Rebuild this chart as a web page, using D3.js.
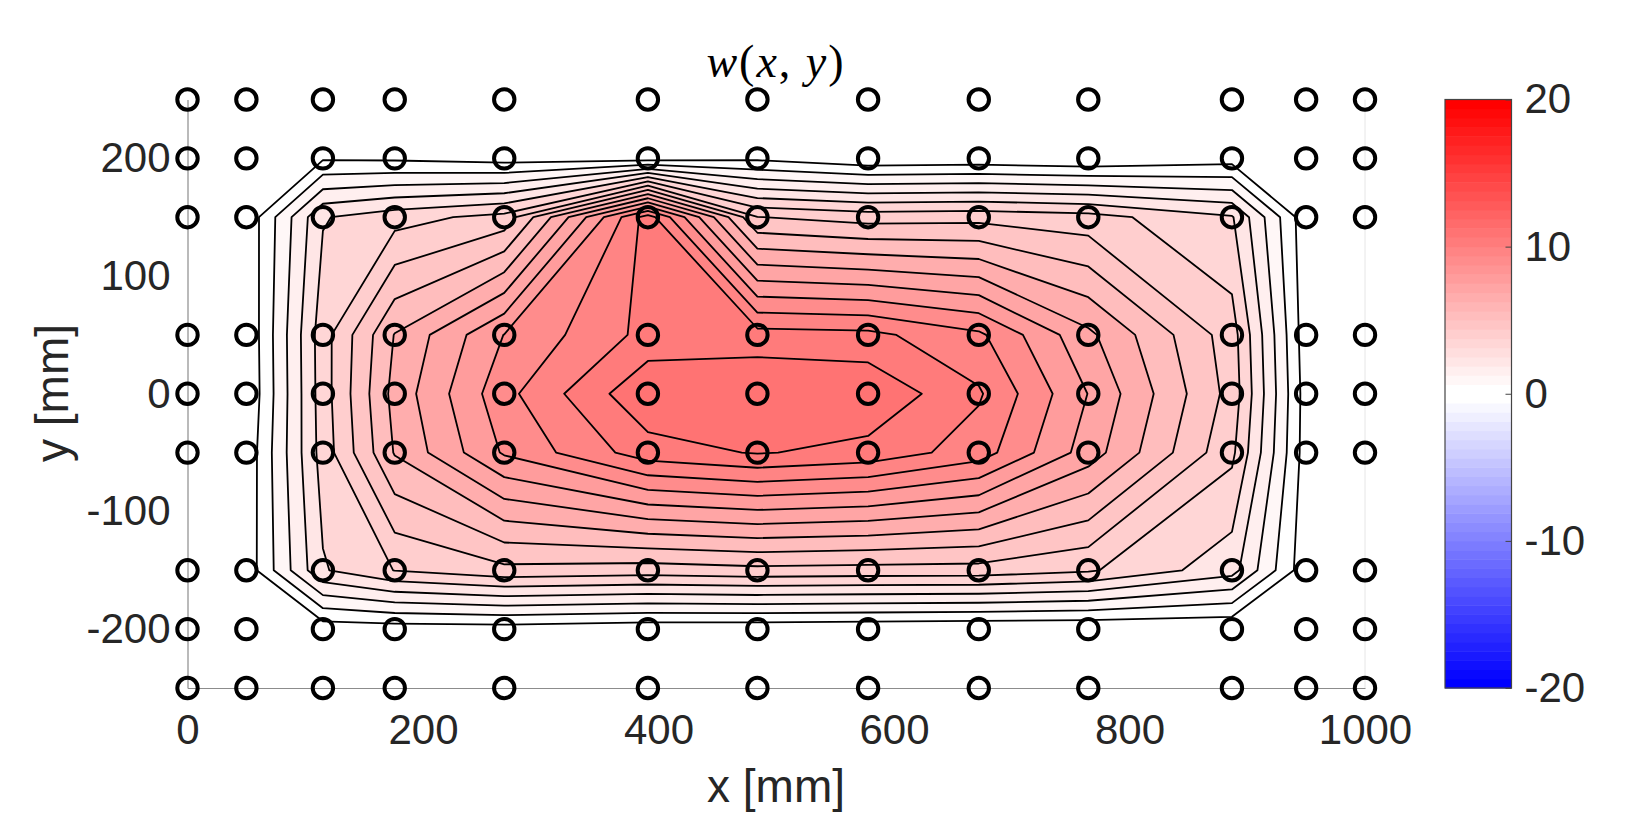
<!DOCTYPE html>
<html>
<head>
<meta charset="utf-8">
<script src="https://d3js.org/d3.v7.min.js"></script>
<style>
	html, body { margin: 0; background: #fff; }
	text { font-family: "Liberation Sans", Arial, sans-serif; fill: #262626; }
</style>
</head>
<body>
<svg></svg>
<script>
const width = 1650
const height = 830

// measurement grid [mm]
const xGrid = [0, 50, 115, 176, 269, 391, 484, 578, 672, 765, 887, 950, 1000]
const yGrid = [250, 200, 150, 50, 0, -50, -150, -200, -250]

// w(x,y), one row per yGrid entry
const row250 = [-.8, -.8, -.8, -.8, -.8, -.8, -.8, -.8, -.8, -.8, -.8, -.8, -.8]
const row200 = [-.8, -.8, -.1, -.14, -.34, -.38, -.16, -.62, -.55, -.7, -.36, -.8, -.8]
const row150 = [-.8, -.62, 3.14, 3.68, 4.28, 10.8, 4.82, 4.46, 4.55, 4.32, 3.28, -.54, -.8]
const row50 = [-.8, -.72, 3.66, 6.44, 8.82, 10.66, 10.72, 10.62, 9.76, 7.38, 4.38, -.48, -.8]
const row0 = [-.8, -.76, 3.63, 6.68, 9.34, 11.88, 11.99, 11.86, 10.5, 7.98, 4.51, -.38, -.8]
const rowM50 = [-.8, -.57, 3.55, 6.46, 8.9, 10.84, 11.26, 10.94, 10, 7.62, 4.19, -.4, -.8]
const rowM150 = [-.8, -.49, 3.12, 4.02, 4.58, 4.4, 4.57, 4.5, 4.48, 4.11, 2.72, -.54, -.8]
const rowM200 = [-.8, -.8, -.48, -.42, -.38, -.58, -.6, -.66, -.74, -.74, -.72, -.8, -.8]
const rowM250 = [-.8, -.8, -.8, -.8, -.8, -.8, -.8, -.8, -.8, -.8, -.8, -.8, -.8]
const zRows = [row250, row200, row150, row50, row0, rowM50, rowM150, rowM200, rowM250]

const levels = [0, 0.8, 1.6, 2.4, 3.2, 4, 4.8, 5.6, 6.4, 7.2, 8, 8.8, 9.6, 10.4, 11.2]

const xTicks = [0, 200, 400, 600, 800, 1000]
const yTicks = [-200, -100, 0, 100, 200]
const cTicks = [-20, -10, 0, 10, 20]

const x = d3.scaleLinear().domain([0, 1000]).range([187.5, 1365])
const y = d3.scaleLinear().domain([-250, 250]).range([688, 99.5])
const cy = d3.scaleLinear().domain([-20, 20]).range([688, 99.5])

// blue-white-red, 64 flat steps like the colorbar
const nColors = 64
const palette = d3.range(nColors).map(function (i) {
	if (i < nColors / 2) {
		const v = Math.round(255 * i / (nColors / 2 - 1))
		return 'rgb(' + v + ',' + v + ',255)'
	}
	const v = Math.round(255 * (nColors - 1 - i) / (nColors / 2 - 1))
	return 'rgb(255,' + v + ',' + v + ')'
})
function colorOf(value) {
	return palette[Math.min(nColors - 1, Math.floor((value + 20) / 40 * nColors + 1e-6))]
}

const svg = d3.select('svg')
	.attr('width', width)
	.attr('height', height)
	.style('display', 'block')

// contours run on the index grid, then get mapped on the uneven mm grid
const xFromIndex = d3.scaleLinear().domain(xGrid.map((d, i) => i + 0.5)).range(xGrid)
const yFromIndex = d3.scaleLinear().domain(yGrid.map((d, i) => i + 0.5)).range(yGrid)

const contours = d3.contours()
	.size([xGrid.length, yGrid.length])
	.thresholds(levels)(zRows.flat())

function ringPath(ring) {
	return 'M' + ring.map(p => x(xFromIndex(p[0])) + ',' + y(yFromIndex(p[1]))).join('L') + 'Z'
}

svg.append('g')
	.attr('class', 'contours')
	.selectAll('path')
	.data(contours)
	.enter()
	.append('path')
	.attr('d', d => d.coordinates.map(poly => poly.map(ringPath).join('')).join(''))
	.attr('fill', d => colorOf(d.value))
	.attr('fill-rule', 'evenodd')
	.attr('stroke', '#000')
	.attr('stroke-width', 1.8)
	.attr('stroke-linejoin', 'round')

// axes have no visible tick marks, hyphen instead of the unicode minus
const xAxis = svg.append('g')
	.attr('transform', 'translate(0,688)')
	.call(d3.axisBottom(x).tickValues(xTicks).tickFormat(String).tickSize(0).tickPadding(26))
const yAxis = svg.append('g')
	.attr('transform', 'translate(187.5,0)')
	.call(d3.axisLeft(y).tickValues(yTicks).tickFormat(String).tickSize(0).tickPadding(17))

for (const axis of [xAxis, yAxis]) {
	axis.selectAll('path').attr('stroke', '#8c8c8c').attr('stroke-width', 1.2)
	axis.selectAll('text').style('font-size', '42px')
	axis.attr('font-family', null).attr('font-size', null)
}

// faint right edge of the box
svg.append('line')
	.attr('x1', x(1000)).attr('x2', x(1000))
	.attr('y1', y(250)).attr('y2', y(-250))
	.attr('stroke', '#e6e6e6').attr('stroke-width', 1)

// grid points
const points = d3.cross(xGrid, yGrid)
svg.append('g')
	.attr('class', 'points')
	.selectAll('circle')
	.data(points)
	.enter()
	.append('circle')
	.attr('cx', d => x(d[0]))
	.attr('cy', d => y(d[1]))
	.attr('r', 10.2)
	.attr('fill', 'none')
	.attr('stroke', '#000')
	.attr('stroke-width', 4)

// title
const title = svg.append('text')
	.attr('x', 776)
	.attr('y', 77)
	.attr('text-anchor', 'middle')
	.style('font-family', '"Liberation Serif", serif')
	.style('font-size', '46px')
	.style('letter-spacing', '2px')
	.style('fill', '#000')
title.append('tspan').style('font-style', 'italic').text('w')
title.append('tspan').text('(')
title.append('tspan').style('font-style', 'italic').text('x')
title.append('tspan').text(', ')
title.append('tspan').style('font-style', 'italic').text('y')
title.append('tspan').text(')')

svg.append('text')
	.attr('x', 776)
	.attr('y', 802)
	.attr('text-anchor', 'middle')
	.style('font-size', '46px')
	.text('x [mm]')

svg.append('text')
	.attr('transform', 'translate(68,393) rotate(-90)')
	.attr('text-anchor', 'middle')
	.style('font-size', '46px')
	.text('y [mm]')

// colorbar
const barX = 1445
const barW = 66.5
const cbar = svg.append('g').attr('class', 'colorbar')
cbar.selectAll('rect')
	.data(palette)
	.enter()
	.append('rect')
	.attr('x', barX)
	.attr('width', barW)
	.attr('y', (d, i) => cy(-20 + (i + 1) * 40 / nColors))
	.attr('height', 40 / nColors * (688 - 99.5) / 40 + 0.5)
	.attr('fill', d => d)
cbar.append('rect')
	.attr('x', barX)
	.attr('y', cy(20))
	.attr('width', barW)
	.attr('height', cy(-20) - cy(20))
	.attr('fill', 'none')
	.attr('stroke', '#444')
	.attr('stroke-width', 1.2)

const cAxis = svg.append('g')
	.attr('transform', 'translate(' + (barX + barW) + ',0)')
	.call(d3.axisRight(cy).tickValues(cTicks).tickFormat(String).tickSizeInner(-6).tickSizeOuter(0).tickPadding(13))
cAxis.select('.domain').remove()
cAxis.selectAll('line').attr('stroke', '#444').attr('stroke-width', 1)
cAxis.selectAll('text').style('font-size', '42px')
cAxis.attr('font-family', null).attr('font-size', null)
</script>
</body>
</html>
